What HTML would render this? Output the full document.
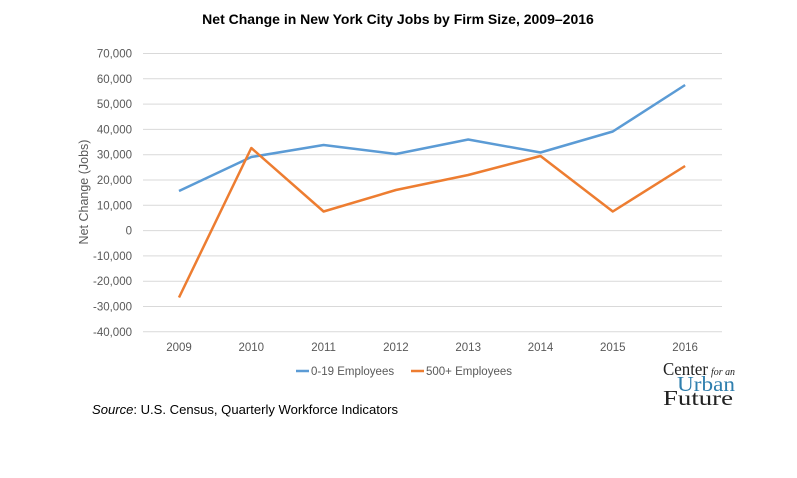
<!DOCTYPE html>
<html><head><meta charset="utf-8"><style>
body{margin:0;background:#fff;font-family:"Liberation Sans",Arial,sans-serif}
</style></head><body>
<svg width="797" height="473" viewBox="0 0 797 473" xmlns="http://www.w3.org/2000/svg" font-family="Liberation Sans, Arial, sans-serif">
<rect width="797" height="473" fill="#fff"/>
<text x="398" y="24" text-anchor="middle" font-size="14" font-weight="bold" fill="#000">Net Change in New York City Jobs by Firm Size, 2009–2016</text>
<g stroke="#d9d9d9" stroke-width="1">
<line x1="143" x2="722" y1="53.5" y2="53.5"/><line x1="143" x2="722" y1="78.8" y2="78.8"/>
<line x1="143" x2="722" y1="104.1" y2="104.1"/><line x1="143" x2="722" y1="129.4" y2="129.4"/>
<line x1="143" x2="722" y1="154.7" y2="154.7"/><line x1="143" x2="722" y1="180" y2="180"/>
<line x1="143" x2="722" y1="205.3" y2="205.3"/><line x1="143" x2="722" y1="230.6" y2="230.6"/>
<line x1="143" x2="722" y1="255.9" y2="255.9"/><line x1="143" x2="722" y1="281.2" y2="281.2"/>
<line x1="143" x2="722" y1="306.5" y2="306.5"/><line x1="143" x2="722" y1="331.8" y2="331.8"/>
</g>
<g font-size="11.5" fill="#595959" text-anchor="end">
<text x="132" y="57.5">70,000</text><text x="132" y="82.8">60,000</text><text x="132" y="108.1">50,000</text>
<text x="132" y="133.4">40,000</text><text x="132" y="158.7">30,000</text><text x="132" y="184">20,000</text>
<text x="132" y="209.3">10,000</text><text x="132" y="234.6">0</text><text x="132" y="259.9">-10,000</text>
<text x="132" y="285.2">-20,000</text><text x="132" y="310.5">-30,000</text><text x="132" y="335.8">-40,000</text>
</g>
<g font-size="11.5" fill="#595959" text-anchor="middle">
<text x="179" y="351">2009</text><text x="251.3" y="351">2010</text><text x="323.6" y="351">2011</text><text x="395.9" y="351">2012</text>
<text x="468.2" y="351">2013</text><text x="540.5" y="351">2014</text><text x="612.8" y="351">2015</text><text x="685.1" y="351">2016</text>
</g>
<text transform="translate(88,192) rotate(-90)" text-anchor="middle" font-size="12.5" fill="#595959">Net Change (Jobs)</text>
<polyline fill="none" stroke="#5b9bd5" stroke-width="2.5" stroke-linejoin="round" points="179,191 251.3,157 323.6,145 395.9,154 468.2,139.5 540.5,152.5 612.8,131.5 685.1,85"/>
<polyline fill="none" stroke="#ed7d31" stroke-width="2.5" stroke-linejoin="round" points="179,297.5 251.3,148 323.6,211.5 395.9,190 468.2,175 540.5,156 612.8,211.5 685.1,166"/>
<line x1="296" x2="309" y1="371" y2="371" stroke="#5b9bd5" stroke-width="2.5"/>
<text x="311" y="375" font-size="11.5" fill="#595959">0-19 Employees</text>
<line x1="411" x2="424" y1="371" y2="371" stroke="#ed7d31" stroke-width="2.5"/>
<text x="426" y="375" font-size="11.5" fill="#595959">500+ Employees</text>
<text x="92" y="414" font-size="13" fill="#000" textLength="306" lengthAdjust="spacingAndGlyphs"><tspan font-style="italic">Source</tspan>: U.S. Census, Quarterly Workforce Indicators</text>
<g font-family="Liberation Serif, serif">
<text x="663" y="375" font-size="18" fill="#222" textLength="45" lengthAdjust="spacingAndGlyphs">Center</text>
<text x="711" y="375" font-size="11" font-style="italic" fill="#222" textLength="24" lengthAdjust="spacingAndGlyphs">for an</text>
<text x="677" y="391" font-size="21" fill="#2f7fae" textLength="58" lengthAdjust="spacingAndGlyphs">Urban</text>
<text x="663" y="405" font-size="21" fill="#222" textLength="70" lengthAdjust="spacingAndGlyphs">Future</text>
</g>
</svg>
</body></html>
